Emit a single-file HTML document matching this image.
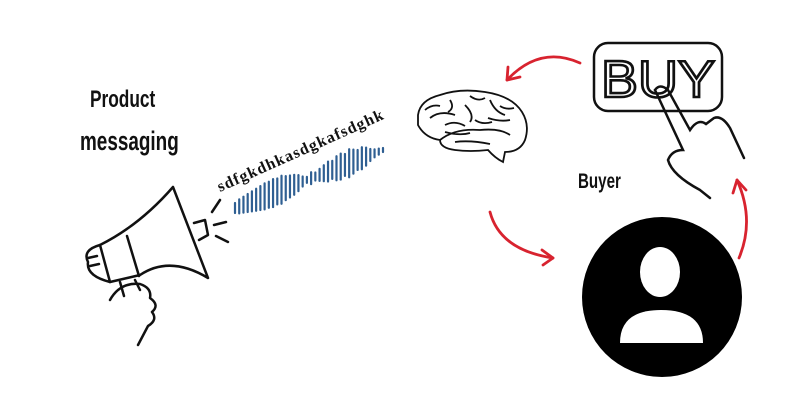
<!DOCTYPE html>
<html><head><style>
body{margin:0;background:#fff;width:800px;height:400px;overflow:hidden;position:relative}
.t{position:absolute;font-family:"Liberation Sans",sans-serif;font-weight:bold;color:#111;transform-origin:left top}
</style></head><body>
<div class="t" style="left:90px;top:86px;font-size:24px;transform:scaleX(0.72)">Product</div>
<div class="t" style="left:80px;top:126px;font-size:27px;transform:scaleX(0.7)">messaging</div>
<div class="t" style="left:578px;top:170px;font-size:21px;transform:scaleX(0.72)">Buyer</div>
<svg width="800" height="400" style="position:absolute;left:0;top:0">
<text x="220" y="192" transform="rotate(-24 220 192)" font-family="Liberation Serif,serif" font-weight="bold" font-size="16" fill="#111" textLength="180">sdfgkdhkasdgkafsdghk</text>
<g id="wave" stroke="#2f5f92" stroke-width="2.2" stroke-linecap="round"></g>
<!-- megaphone -->
<g fill="none" stroke="#111" stroke-width="2.5" stroke-linejoin="round" stroke-linecap="round">
<path d="M173 187 L208 278 Q170 255 140 275 L110 282 L100 245 Q140 225 173 187 Z"/>
<path d="M127 236 L139 276"/>
<path d="M100 245 Q82 250 88 262 Q86 276 110 282"/>
<path d="M88 258 L97 256 M90 266 L99 264"/>
<path d="M194 223 L205 220 L208 235 L199 240"/>
<path d="M212 212 L220 200 M214 225 L226 222 M216 236 L228 242"/>
<path d="M120 282 L124 296 M135 280 L140 290"/>
<path d="M110 300 Q120 282 140 284 Q152 288 150 298 Q160 305 152 312 Q158 320 148 326 L138 345"/>
</g>
<!-- buy -->
<rect x="594" y="43" width="128" height="68" rx="14" fill="none" stroke="#111" stroke-width="2.5"/>
<text x="601" y="97" font-family="Liberation Sans,sans-serif" font-size="52" fill="none" stroke="#111" stroke-width="2.6" textLength="114" lengthAdjust="spacingAndGlyphs">BUY</text>
<g fill="none" stroke="#111" stroke-width="2.5" stroke-linecap="round">
<path d="M655 90 Q660 83 668 90 L690 130 Q698 118 706 124 L714 118 Q722 115 730 128 L744 158"/>
<path d="M655 90 L683 150 Q672 150 668 160 Q672 175 700 190 L710 198"/>
</g>
<!-- brain -->
<g fill="#fff" stroke="#111" stroke-width="1.8">
<path d="M418 115 Q420 100 440 95 Q460 88 485 92 Q512 96 522 112 Q530 125 525 140 Q520 152 505 152 L503 162 Q495 158 488 150 Q470 152 455 150 Q440 148 440 140 Q425 138 418 125 Z"/>
<path d="M440 140 Q455 128 480 130 Q500 128 510 135 M430 118 Q440 110 455 115 M465 105 Q475 115 470 122 M490 100 Q495 112 505 115 M450 100 Q455 108 448 112 M488 118 Q500 122 510 120 M455 142 Q470 140 490 144 M425 110 Q432 104 440 106 M470 96 Q478 102 485 98 M500 106 Q506 110 514 108 M445 125 Q455 120 465 126 M475 120 Q482 125 492 122 M445 132 Q460 136 470 133"/>
</g>
<!-- buyer -->
<circle cx="662" cy="297" r="80" fill="#000"/>
<ellipse cx="660" cy="272" rx="20" ry="25" fill="#fff"/>
<path d="M620 343 Q620 310 661 310 Q703 310 703 343 Z" fill="#fff"/>
<!-- arrows -->
<g fill="none" stroke="#d8232f" stroke-width="2.8" stroke-linecap="round">
<path d="M580 63 Q540 45 507 80"/><path d="M507 80 L508 67 M507 80 L520 77"/>
<path d="M490 212 Q500 250 553 258"/><path d="M553 258 L542 250 M553 258 L543 265"/>
<path d="M739 258 Q755 220 737 180"/><path d="M737 180 L733 193 M737 180 L746 190"/>
</g>
</svg>
<script>
var g=document.getElementById('wave'),s='';
var h=[5,7,8,9,10,11,12,13,13,14,13,14,12,11,10,8,5,3,6,4,6,8,10,9,12,13,11,14,12,10,11,9,6,4,3,2];
for(var i=0;i<h.length;i++){var t=i/(h.length-1);var x=235+t*148,y=208-t*58;var a=h[i];
s+='<line x1="'+x+'" y1="'+(y-a)+'" x2="'+x+'" y2="'+(y+a)+'"/>';}
g.innerHTML=s;
</script>
</body></html>
